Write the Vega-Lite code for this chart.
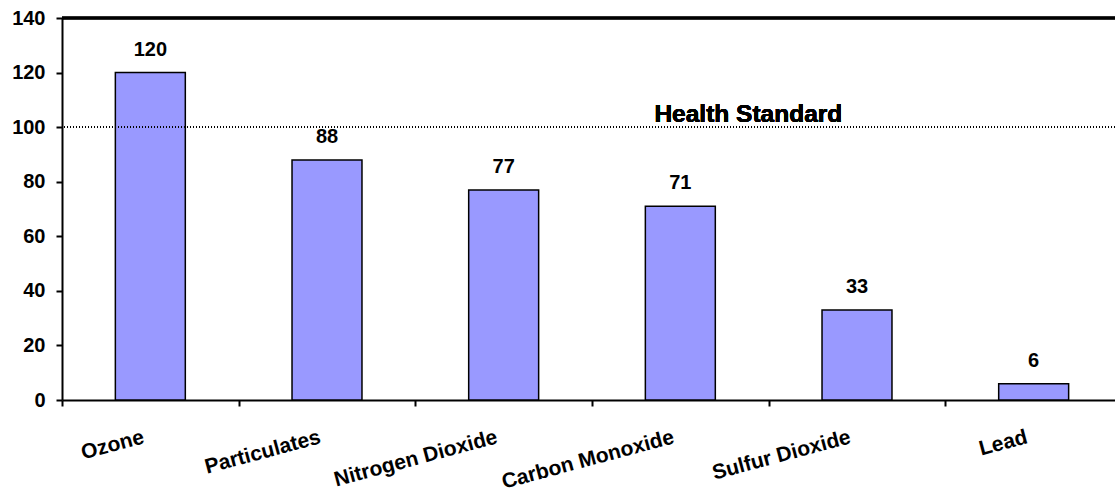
{
  "$schema": "https://vega.github.io/schema/vega-lite/v6.json",
  "width": 1053,
  "height": 382,
  "autosize": {"type": "none"},
  "padding": {"left": 62, "top": 18, "right": 0, "bottom": 95},
  "background": "white",
  "config": {
    "view": {"stroke": null},
    "font": "Liberation Sans"
  },
  "data": {
    "values": [
      {"pollutant": "Ozone", "value": 120},
      {"pollutant": "Particulates", "value": 88},
      {"pollutant": "Nitrogen Dioxide", "value": 77},
      {"pollutant": "Carbon Monoxide", "value": 71},
      {"pollutant": "Sulfur Dioxide", "value": 33},
      {"pollutant": "Lead", "value": 6}
    ]
  },
  "layer": [
    {
      "mark": {"type": "bar", "fill": "#9999FF", "stroke": "black", "strokeWidth": 1.5, "width": {"band": 0.396}},
      "encoding": {
        "x": {
          "field": "pollutant", "type": "nominal", "sort": null,
          "scale": {"paddingInner": 0, "paddingOuter": 0, "range": [0, 1060]},
          "axis": {
            "title": null, "labelAngle": -15, "labelAlign": "right", "labelBaseline": "top",
            "tickBand": "extent", "labelPadding": 20, "labelOffset": -10, "labelFontSize": 21, "labelFontWeight": "bold",
            "labelColor": "black", "domainColor": "black", "domainWidth": 2,
            "tickColor": "black", "tickWidth": 2, "tickSize": 6, "grid": false,
            "labelFont": "Liberation Sans"
          }
        },
        "y": {
          "field": "value", "type": "quantitative",
          "scale": {"domain": [0, 140], "nice": false},
          "axis": {
            "title": null, "values": [0, 20, 40, 60, 80, 100, 120, 140], "grid": false,
            "labelFontSize": 20, "labelFontWeight": "bold", "labelColor": "black",
            "labelPadding": 11, "domainColor": "black", "domainWidth": 2,
            "tickColor": "black", "tickWidth": 2, "tickSize": 6, "labelFont": "Liberation Sans"
          }
        }
      }
    },
    {
      "mark": {"type": "rule", "strokeWidth": 2.5, "color": "black"},
      "encoding": {"y": {"datum": 140}}
    },
    {
      "mark": {"type": "text", "fontWeight": "bold", "fontSize": 20, "baseline": "alphabetic", "dy": -17, "font": "Liberation Sans", "color": "black"},
      "encoding": {
        "x": {"field": "pollutant", "type": "nominal", "sort": null},
        "y": {"field": "value", "type": "quantitative"},
        "text": {"field": "value"}
      }
    },
    {
      "mark": {"type": "rule", "strokeDash": [1, 2], "strokeWidth": 1.2, "color": "black"},
      "encoding": {"y": {"datum": 100}}
    },
    {
      "mark": {"type": "text", "fontWeight": "bold", "fontSize": 24.5, "baseline": "alphabetic", "dy": -5, "dx": 68, "font": "Liberation Sans", "color": "black"},
      "encoding": {
        "x": {"datum": "Carbon Monoxide"},
        "y": {"datum": 100},
        "text": {"value": "Health Standard"}
      }
    }
  ]
}
